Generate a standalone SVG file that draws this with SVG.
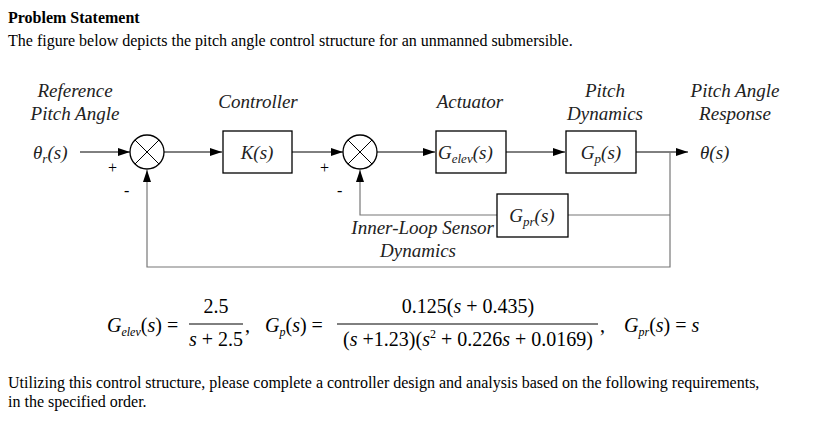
<svg xmlns="http://www.w3.org/2000/svg" width="830" height="434" viewBox="0 0 830 434">
<style>
.t{font-family:"Liberation Serif",serif;font-size:16px;fill:#000}
.i{font-family:"Liberation Serif",serif;font-style:italic;font-size:19px;fill:#222}
.m{font-family:"Liberation Serif",serif;font-size:20px;fill:#000}
.b{fill:#fff;stroke:#000;stroke-width:1.3}
.l{fill:none;stroke:#000;stroke-width:1}
.g{fill:none;stroke:#777;stroke-width:1.2}
</style>
<defs><marker id="a" markerWidth="12" markerHeight="8" refX="12" refY="4" orient="auto" markerUnits="userSpaceOnUse"><path d="M0,0L12,4L0,8z" fill="#000"/></marker></defs>
<rect width="830" height="434" fill="#fff"/>
<text class="t" x="8" y="23" font-weight="bold">Problem Statement</text>
<text class="t" x="8" y="46">The figure below depicts the pitch angle control structure for an unmanned submersible.</text>
<g class="i" text-anchor="middle">
<text x="75" y="97">Reference</text><text x="75" y="120">Pitch Angle</text>
<text x="258" y="108">Controller</text>
<text x="470" y="108">Actuator</text>
<text x="605" y="97">Pitch</text><text x="605" y="120">Dynamics</text>
<text x="735" y="97">Pitch Angle</text><text x="735" y="120">Response</text>
</g>
<g id="connectors">
<path class="l" d="M80,152H130" marker-end="url(#a)"/>
<path class="l" d="M164,152H222" marker-end="url(#a)"/>
<path class="l" d="M292,152H343" marker-end="url(#a)"/>
<path class="l" d="M377,152H435" marker-end="url(#a)"/>
<path class="l" d="M506,152H565" marker-end="url(#a)"/>
<path class="l" d="M636,152H688" marker-end="url(#a)"/>
<path class="g" d="M670,152V267H147V170" marker-end="url(#a)"/>
<path class="g" d="M670,215H568"/>
<path class="g" d="M497,215H360V170" marker-end="url(#a)"/>
</g>
<g id="input"><text class="i" x="33" y="159">θ<tspan font-size="13" dy="4">r</tspan><tspan dy="-4">(s)</tspan></text></g>
<g id="sum1"><circle class="b" cx="147" cy="152" r="17"/><path class="l" d="M135,140L159,164M159,140L135,164"/><text class="t" x="108" y="173">+</text><text class="t" x="124" y="196">-</text></g>
<g id="K"><rect class="b" x="223" y="131" width="69" height="42"/><text class="i" x="257" y="159" text-anchor="middle">K(s)</text></g>
<g id="sum2"><circle class="b" cx="360" cy="152" r="17"/><path class="l" d="M348,140L372,164M372,140L348,164"/><text class="t" x="320" y="173">+</text><text class="t" x="337" y="196">-</text></g>
<g id="Gelev"><rect class="b" x="436" y="131" width="70" height="42"/><text class="i" x="438" y="159" font-size="20">G<tspan font-size="13" dy="4">elev</tspan><tspan dy="-4">(s)</tspan></text></g>
<g id="Gp"><rect class="b" x="566" y="131" width="70" height="42"/><text class="i" x="601" y="159" text-anchor="middle" font-size="20">G<tspan font-size="13" dy="4">p</tspan><tspan dy="-4">(s)</tspan></text></g>
<g id="output"><text class="i" x="700" y="159">θ(s)</text></g>
<g id="Gpr"><rect class="b" x="497" y="194" width="71" height="43"/><text class="i" x="532" y="222" text-anchor="middle" font-size="20">G<tspan font-size="13" dy="4">pr</tspan><tspan dy="-4">(s)</tspan></text>
<text class="i" x="494" y="234" text-anchor="end">Inner-Loop Sensor</text><text class="i" x="418" y="257" text-anchor="middle">Dynamics</text></g>
<g id="eqs">
<text class="m" x="107" y="332"><tspan font-style="italic">G</tspan><tspan font-style="italic" font-size="12" dy="4">elev</tspan><tspan dy="-4">(</tspan><tspan font-style="italic">s</tspan>) =</text>
<text class="m" x="216" y="313" text-anchor="middle">2.5</text>
<line x1="189" y1="324" x2="243" y2="324" stroke="#000"/>
<text class="m" x="216" y="346" text-anchor="middle"><tspan font-style="italic">s</tspan> + 2.5</text>
<text class="m" x="245" y="332">,</text>
<text class="m" x="265" y="332"><tspan font-style="italic">G</tspan><tspan font-style="italic" font-size="12" dy="4">p</tspan><tspan dy="-4">(</tspan><tspan font-style="italic">s</tspan>) =</text>
<text class="m" x="468" y="313" text-anchor="middle">0.125(<tspan font-style="italic">s</tspan> + 0.435)</text>
<line x1="337" y1="324" x2="598" y2="324" stroke="#000"/>
<text class="m" x="468" y="346" text-anchor="middle">(<tspan font-style="italic">s</tspan> +1.23)(<tspan font-style="italic">s</tspan><tspan font-size="12" dy="-8">2</tspan><tspan dy="8"> + 0.226</tspan><tspan font-style="italic">s</tspan> + 0.0169)</text>
<text class="m" x="600" y="332">,</text>
<text class="m" x="624" y="332"><tspan font-style="italic">G</tspan><tspan font-style="italic" font-size="12" dy="4">pr</tspan><tspan dy="-4">(</tspan><tspan font-style="italic">s</tspan>) = <tspan font-style="italic">s</tspan></text>
</g>
<text class="t" x="8" y="388">Utilizing this control structure, please complete a controller design and analysis based on the following requirements,</text>
<text class="t" x="8" y="407">in the specified order.</text>
</svg>
